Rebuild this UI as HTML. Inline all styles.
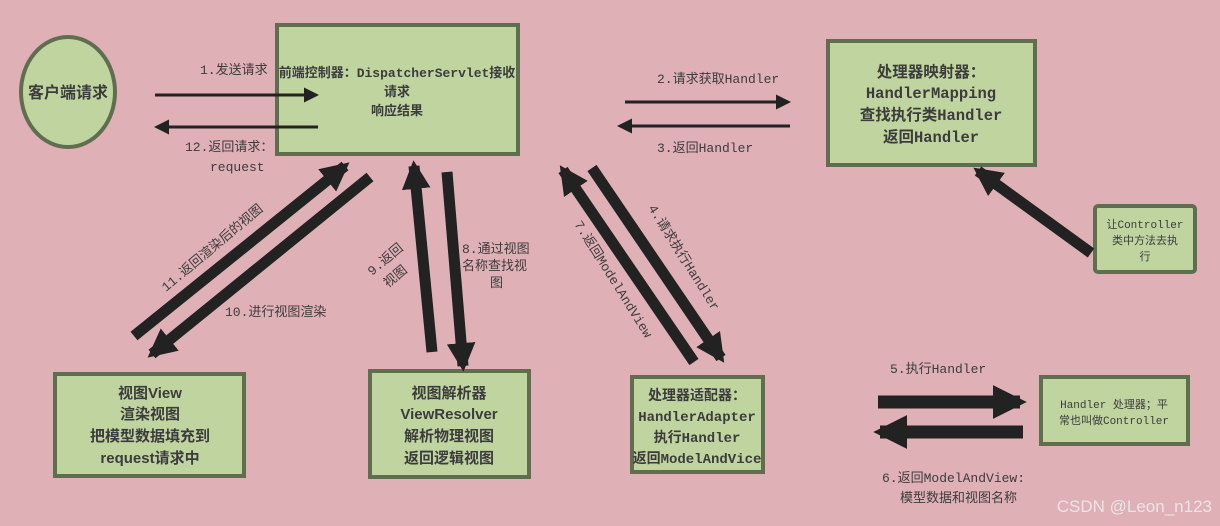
<!DOCTYPE html>
<html><head><meta charset="utf-8"><style>
html,body{margin:0;padding:0;background:#dfb0b6;}
svg{display:block;}
text{font-family:"Liberation Sans","Noto Sans CJK SC",sans-serif;fill:#3c3c3c;}
.m text, text.m{font-family:"Liberation Mono","Noto Sans CJK SC",monospace;}
.b text, text.b{font-weight:bold;}
</style></head><body>
<svg width="1220" height="526" viewBox="0 0 1220 526" xmlns="http://www.w3.org/2000/svg">
<defs>
<marker id="ah" viewBox="0 0 10 10" refX="8" refY="5" markerWidth="5" markerHeight="5" orient="auto" markerUnits="strokeWidth"><path d="M0,0 L10,5 L0,10 Z" fill="#222"/></marker>
<marker id="ahs" viewBox="0 0 10 10" refX="8" refY="5" markerWidth="2.6" markerHeight="2.6" orient="auto" markerUnits="strokeWidth"><path d="M0,0 L10,5 L0,10 Z" fill="#222"/></marker>
</defs>
<rect width="1220" height="526" fill="#dfb0b6"/>
<g fill="#c0d4a0" stroke="#5f6e4e" stroke-width="4">
<ellipse cx="68" cy="92" rx="47" ry="55"/>
<rect x="277" y="25" width="241" height="129"/>
<rect x="828" y="41" width="207" height="124"/>
<rect x="1095" y="206" width="100" height="66" rx="3"/>
<rect x="55" y="374" width="189" height="102"/>
<rect x="370" y="371" width="159" height="106"/>
<rect x="632" y="377" width="131" height="95"/>
<rect x="1041" y="377" width="147" height="67"/>
</g>
<g stroke="#222" fill="none">
<line x1="155" y1="95" x2="316" y2="95" stroke-width="3" marker-end="url(#ah)"/>
<line x1="318" y1="127" x2="157" y2="127" stroke-width="3" marker-end="url(#ah)"/>
<line x1="625" y1="102" x2="788" y2="102" stroke-width="3" marker-end="url(#ah)"/>
<line x1="790" y1="126" x2="620" y2="126" stroke-width="3" marker-end="url(#ah)"/>
<line x1="134" y1="336" x2="345" y2="166" stroke-width="11" marker-end="url(#ahs)"/>
<line x1="370" y1="177" x2="152" y2="354" stroke-width="11" marker-end="url(#ahs)"/>
<line x1="432" y1="352" x2="414" y2="166" stroke-width="11" marker-end="url(#ahs)"/>
<line x1="447" y1="172" x2="463" y2="366" stroke-width="11" marker-end="url(#ahs)"/>
<line x1="694" y1="362" x2="563" y2="170" stroke-width="11" marker-end="url(#ahs)"/>
<line x1="592" y1="168" x2="721" y2="358" stroke-width="11" marker-end="url(#ahs)"/>
<line x1="1091" y1="253" x2="978" y2="171" stroke-width="11" marker-end="url(#ahs)"/>
<line x1="878" y1="402" x2="1020" y2="402" stroke-width="13" marker-end="url(#ahs)"/>
<line x1="1023" y1="432" x2="880" y2="432" stroke-width="13" marker-end="url(#ahs)"/>
</g>
<text x="68" y="98" class="b" font-size="16" text-anchor="middle">客户端请求</text>
<g class="m b" font-size="13" text-anchor="middle">
<text x="397" y="77">前端控制器：DispatcherServlet接收</text>
<text x="397" y="96">请求</text>
<text x="397" y="115">响应结果</text>
</g>
<g class="m b" font-size="15.5" text-anchor="middle">
<text x="931" y="77">处理器映射器：</text>
<text x="931" y="98">HandlerMapping</text>
<text x="931" y="120">查找执行类Handler</text>
<text x="931" y="142">返回Handler</text>
</g>
<g class="m b" font-size="14" text-anchor="middle">
<text x="697" y="400">处理器适配器：</text>
<text x="697" y="421">HandlerAdapter</text>
<text x="697" y="442">执行Handler</text>
<text x="697" y="463">返回ModelAndVice</text>
</g>
<g class="b" font-size="15" text-anchor="middle">
<text x="150" y="398">视图View</text>
<text x="150" y="419">渲染视图</text>
<text x="150" y="441">把模型数据填充到</text>
<text x="150" y="463">request请求中</text>
<text x="449" y="398">视图解析器</text>
<text x="449" y="419">ViewResolver</text>
<text x="449" y="441">解析物理视图</text>
<text x="449" y="463">返回逻辑视图</text>
</g>
<g class="m" font-size="11" text-anchor="middle">
<text x="1145" y="228">让Controller</text>
<text x="1145" y="244">类中方法去执</text>
<text x="1145" y="260">行</text>
<text x="1114" y="408">Handler 处理器；平</text>
<text x="1114" y="424">常也叫做Controller</text>
</g>
<g class="m" font-size="13">
<text x="200" y="74">1.发送请求</text>
<text x="185" y="151">12.返回请求：</text>
<text x="210" y="171">request</text>
<text x="657" y="83">2.请求获取Handler</text>
<text x="657" y="152">3.返回Handler</text>
<text x="225" y="316">10.进行视图渲染</text>
<text x="462" y="253">8.通过视图</text>
<text x="462" y="270">名称查找视</text>
<text x="490" y="287">图</text>
<text x="890" y="373">5.执行Handler</text>
<text x="882" y="482">6.返回ModelAndView:</text>
<text x="900" y="502">模型数据和视图名称</text>
<text transform="translate(166,292) rotate(-40)">11.返回渲染后的视图</text>
<text transform="translate(372,276) rotate(-40)">9.返回</text>
<text transform="translate(388,288) rotate(-40)">视图</text>
<text transform="translate(574,224) rotate(58)">7.返回ModelAndView</text>
<text transform="translate(648,208) rotate(58)">4.请求执行Handler</text>
</g>
<text x="1212" y="512" font-size="17" text-anchor="end" style="fill:#eee;opacity:.85">CSDN @Leon_n123</text>
</svg>
</body></html>
